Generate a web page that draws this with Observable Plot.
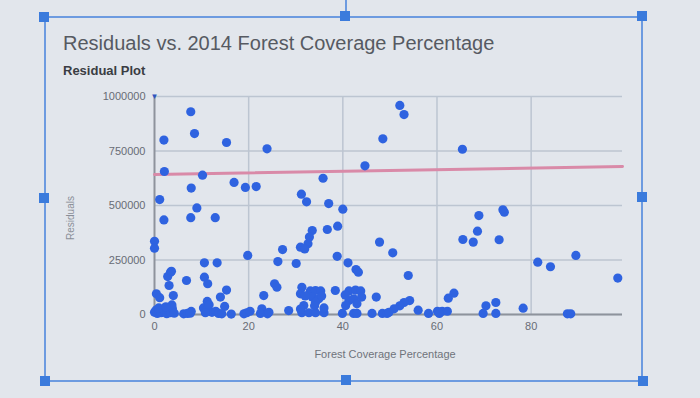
<!DOCTYPE html>
<html>
<head>
<meta charset="utf-8">
<script src="https://cdn.jsdelivr.net/npm/d3@7"></script>
<script src="https://cdn.jsdelivr.net/npm/@observablehq/plot@0.6"></script>
<style>
  html, body { margin: 0; padding: 0; }
  body { width: 700px; height: 398px; overflow: hidden; background: #e2e6ec; font-family: "Liberation Sans", Arial, sans-serif; }
  #wrap { position: relative; width: 700px; height: 398px; }
  #chart { position: absolute; left: 0; top: 0; }
  .t { position: absolute; white-space: nowrap; }
  #title { left: 63px; top: 32px; font-size: 20px; color: #565a62; }
  #subtitle { left: 63px; top: 63px; font-size: 13px; font-weight: bold; color: #3a3d43; }
  #ylab { left: 70px; top: 218px; font-size: 10px; color: #8a8f98; transform: translate(-50%, -50%) rotate(-90deg); }
  #xlab { left: 385px; top: 348px; font-size: 11px; color: #6f737b; transform: translateX(-50%); }
  .ln { position: absolute; background: #6d9be0; }
  .h { position: absolute; width: 10px; height: 10px; background: #3b7bdc; transform: translate(-50%, -50%); }
</style>
</head>
<body>
<div id="wrap">
  <div class="ln" style="left:44px; top:16px; width:598px; height:2px;"></div>
  <div class="ln" style="left:45px; top:380px; width:598px; height:2px;"></div>
  <div class="ln" style="left:44px; top:16px; width:2px; height:365px;"></div>
  <div class="ln" style="left:641px; top:16px; width:2px; height:365px;"></div>
  <div class="ln" style="left:345px; top:0px; width:2px; height:16px;"></div>
  <div id="chart"></div>
  <div class="t" id="title">Residuals vs. 2014 Forest Coverage Percentage</div>
  <div class="t" id="subtitle">Residual Plot</div>
  <div class="t" id="ylab">Residuals</div>
  <div class="t" id="xlab">Forest Coverage Percentage</div>
  <div class="h" style="left:44px; top:17px;"></div>
  <div class="h" style="left:345px; top:16px;"></div>
  <div class="h" style="left:642px; top:16px;"></div>
  <div class="h" style="left:44px; top:198px;"></div>
  <div class="h" style="left:642px; top:197px;"></div>
  <div class="h" style="left:45px; top:381px;"></div>
  <div class="h" style="left:346px; top:380px;"></div>
  <div class="h" style="left:643px; top:381px;"></div>
</div>
<script>
// Forest coverage percentage (x) and residuals (y)
const forestPct = [
  7.7, 2.0, 8.5, 15.3, 23.9, 2.1, 10.2, 16.9, 19.3, 21.6, 7.8, 1.1, 9.0, 2.0, 7.7, 12.9,
  0.0, 0.0, 19.8, 10.6, 13.3, 3.4, 2.8, 3.6, 6.8, 10.6, 11.3, 3.1, 15.3, 14.0, 0.4, 1.1,
  4.0, 23.2, 11.2, 14.9, 3.7, 22.8, 7.8,
  0.0, 0.3, 0.6, 1.0, 1.4, 1.8, 2.2, 2.6, 3.0, 3.4, 3.8, 4.2, 0.9, 2.4,
  6.2, 7.0, 7.6, 10.4, 11.1, 11.6, 12.2, 13.0, 13.6, 14.3, 10.8, 16.3,
  19.0, 19.6, 20.3, 22.5, 24.0, 24.3,
  48.5, 44.7, 35.8, 31.2, 32.3, 37.0, 40.0, 33.5, 32.9, 36.7, 38.9, 32.6, 31.0, 31.9,
  27.2, 47.8, 26.2, 30.1, 38.8, 41.1, 42.8, 43.3, 25.5, 26.0, 31.3, 31.0, 33.1, 34.2,
  35.3, 33.5, 34.9, 34.2, 31.7, 38.4, 41.3, 42.7, 43.8, 41.3, 42.3, 43.0, 40.6, 47.1,
  28.5, 31.3, 32.8, 34.2, 36.0, 39.9, 42.3, 43.0, 46.2, 48.4, 49.4, 50.6,
  32.0, 35.5, 34.0, 36.0, 31.0, 40.5, 44.0,
  52.1, 53.0, 65.4, 74.0, 68.9, 74.3, 68.6, 65.5, 67.7, 73.2, 53.9, 63.6, 62.4,
  54.2, 53.0, 52.1, 50.9, 49.8, 56.0, 58.2, 60.1, 61.1, 62.2, 60.5,
  70.4, 72.5, 69.8, 72.5, 81.4, 84.1, 89.5, 98.4, 78.3, 87.7, 88.4
];
const residuals = [
  930000, 800000, 830000, 789000, 760000, 656000, 639000, 606000, 583000, 587000, 580000, 527000, 489000, 434000, 444000, 444000,
  336000, 304000, 271000, 237000, 237000, 194000, 174000, 198000, 156000, 171000, 141000, 133000, 112000, 80000, 95000, 77000,
  87000, 87000, 60000, 37000, 44000, 26000, 14000,
  10000, 20000, 5000, 15000, 8000, 25000, 12000, 4000, 18000, 8000, 28000, 6000, 30000, 35000,
  3000, 5000, 6000, 30000, 20000, 45000, 10000, 15000, 5000, 3000, 8000, 2000,
  3000, 8000, 15000, 5000, 3000, 10000,
  806000, 682000, 625000, 552000, 517000, 509000, 483000, 385000, 355000, 390000, 405000, 324000, 309000, 301000,
  298000, 332000, 243000, 234000, 267000, 237000, 206000, 194000, 141000, 125000, 125000, 95000, 108000, 110000,
  108000, 80000, 72000, 56000, 41000, 110000, 108000, 112000, 108000, 64000, 72000, 49000, 41000, 80000,
  18000, 8000, 8000, 8000, 8000, 5000, 5000, 5000, 5000, 5000, 5000, 283000,
  85000, 85000, 40000, 30000, 25000, 90000, 80000,
  959000, 917000, 758000, 480000, 454000, 469000, 382000, 344000, 332000, 343000, 179000, 98000, 75000,
  64000, 55000, 40000, 26000, 10000, 20000, 5000, 15000, 15000, 15000, 5000,
  40000, 55000, 5000, 5000, 240000, 219000, 271000, 167000, 29000, 3000, 3000
];
// Trend line endpoints
const trendX = [0, 99.4];
const trendY = [642000, 679000];
// Tick values
const xTicks = [0, 20, 40, 60, 80];
const yTicks = [0, 250000, 500000, 750000, 1000000];

const points = forestPct.map((x, i) => ({x, y: residuals[i]}));
const trend = trendX.map((x, i) => ({x, y: trendY[i]}));

const chart = Plot.plot({
  width: 700,
  height: 398,
  marginLeft: 154,
  marginRight: 78,
  marginTop: 96,
  marginBottom: 84,
  style: {background: "transparent", color: "#686c75", fontFamily: "'Liberation Sans', Arial, sans-serif", fontSize: "11px"},
  x: {domain: [0, 99.4], ticks: xTicks, tickSize: 0, tickPadding: 8, label: null},
  y: {domain: [0, 1000000], ticks: yTicks, tickFormat: d3.format("d"), tickSize: 0, tickPadding: 9, label: null},
  marks: [
    Plot.ruleY(yTicks, {stroke: "#bcc5d1", strokeWidth: 1.5}),
    Plot.ruleX(xTicks.slice(1), {stroke: "#bcc5d1", strokeWidth: 1.5}),
    Plot.ruleY([0], {stroke: "#8e939c", strokeWidth: 2}),
    Plot.ruleX([0], {stroke: "#8e939c", strokeWidth: 2}),
    Plot.line(trend, {x: "x", y: "y", stroke: "#d98aa8", strokeWidth: 3}),
    Plot.dot(points, {x: "x", y: "y", r: 4.6, fill: "#2f63e0", stroke: "none"}),
    Plot.text([1000000], {x: 0, y: d => d, text: () => "\u25BC", fill: "#2f55c0", fontSize: 8})
  ]
});
document.getElementById("chart").appendChild(chart);
</script>
</body>
</html>
